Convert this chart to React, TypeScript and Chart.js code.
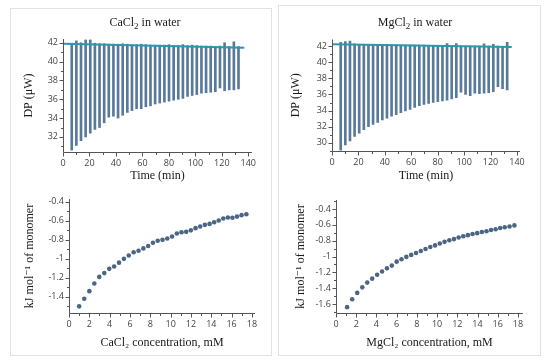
import React, { useEffect, useRef } from "react";
import { Chart, registerables } from "chart.js";
Chart.register(...registerables);

// ---------- data ----------
const SPIKE_TIMES = [6.6, 10.1, 13.6, 17.1, 20.6, 24.1, 27.6, 31.1, 34.6, 38.1, 41.6, 45.1, 48.6, 52.1, 55.6, 59.1, 62.6, 66.1, 69.6, 73.1, 76.6, 80.1, 83.6, 87.1, 90.6, 94.1, 97.6, 101.1, 104.6, 108.1, 111.6, 115.1, 118.6, 122.1, 125.6, 129.1, 132.6];
const CA_SPIKE_MIN = [30.6, 31.1, 31.6, 32.0, 32.4, 32.8, 33.0, 33.5, 34.1, 34.2, 34.0, 34.3, 34.6, 34.8, 35.0, 35.0, 35.2, 35.3, 35.5, 35.6, 35.7, 35.8, 35.9, 36.0, 36.1, 36.3, 36.4, 36.5, 36.65, 36.7, 36.75, 36.8, 37.2, 36.9, 37.0, 37.0, 37.1];
const CA_SPIKE_TOP = [41.95, 42.2, 42.0, 42.3, 42.3, 41.95, 41.9, 41.9, 41.85, 41.85, 41.85, 41.9, 41.85, 41.8, 41.8, 41.85, 41.8, 41.75, 41.75, 41.75, 41.75, 41.8, 41.7, 41.7, 41.8, 41.7, 41.75, 41.7, 41.65, 41.65, 41.65, 41.6, 41.65, 42.0, 41.6, 42.1, 41.6];
const MG_SPIKE_MIN = [29.1, 29.75, 30.25, 30.8, 31.2, 31.65, 32.0, 32.3, 32.55, 32.85, 33.05, 33.3, 33.5, 33.75, 33.95, 34.15, 34.4, 34.6, 34.75, 34.9, 35.0, 35.1, 35.2, 35.3, 35.45, 35.6, 36.27, 36.0, 35.85, 36.15, 36.1, 36.15, 36.22, 36.35, 36.97, 36.7, 36.55];
const MG_SPIKE_TOP = [42.45, 42.55, 42.6, 42.25, 42.2, 42.2, 42.2, 42.2, 42.15, 42.15, 42.15, 42.15, 42.15, 42.1, 42.1, 42.1, 42.1, 42.1, 42.1, 42.05, 42.05, 42.05, 42.05, 42.3, 42.05, 42.3, 42.0, 42.0, 42.0, 42.0, 42.0, 42.25, 42.0, 42.2, 42.0, 41.95, 42.45];
const CA_BASE_TIME = [0, 137];
const CA_BASE_DP = [41.9, 41.48];
const MG_BASE_TIME = [0, 136];
const MG_BASE_DP = [42.2, 41.88];

const CA_CONC = [1.0, 1.5, 2.0, 2.49, 2.98, 3.47, 3.96, 4.44, 4.92, 5.4, 5.88, 6.36, 6.84, 7.32, 7.79, 8.26, 8.73, 9.2, 9.67, 10.14, 10.61, 11.07, 11.53, 11.99, 12.45, 12.91, 13.37, 13.83, 14.28, 14.73, 15.18, 15.63, 16.08, 16.53, 16.98, 17.45];
const CA_ENTHALPY = [-1.5, -1.42, -1.34, -1.26, -1.19, -1.15, -1.105, -1.08, -1.04, -1.0, -0.965, -0.93, -0.915, -0.89, -0.865, -0.83, -0.81, -0.8, -0.786, -0.765, -0.733, -0.72, -0.716, -0.7, -0.677, -0.66, -0.642, -0.632, -0.614, -0.597, -0.575, -0.565, -0.568, -0.555, -0.54, -0.53];
const MG_CONC = [1.1, 1.6, 2.1, 2.6, 3.09, 3.58, 4.07, 4.56, 5.04, 5.52, 6.0, 6.48, 6.96, 7.44, 7.92, 8.39, 8.86, 9.33, 9.8, 10.27, 10.74, 11.21, 11.67, 12.13, 12.59, 13.05, 13.51, 13.97, 14.43, 14.89, 15.34, 15.79, 16.24, 16.69, 17.17, 17.65];
const MG_ENTHALPY = [-1.64, -1.54, -1.46, -1.39, -1.33, -1.28, -1.23, -1.19, -1.15, -1.115, -1.065, -1.035, -1.005, -0.98, -0.955, -0.93, -0.905, -0.88, -0.86, -0.835, -0.815, -0.795, -0.78, -0.76, -0.745, -0.73, -0.715, -0.705, -0.69, -0.68, -0.665, -0.655, -0.64, -0.63, -0.62, -0.607];

const TIME_TICKS = [0, 20, 40, 60, 80, 100, 120, 140];
const CA_DP_TICKS = [32, 34, 36, 38, 40, 42];
const MG_DP_TICKS = [30, 32, 34, 36, 38, 40, 42];
const CONC_TICKS = [0, 2, 4, 6, 8, 10, 12, 14, 16, 18];
const CA_KJ_TICKS = [-1.4, -1.2, -1, -0.8, -0.6, -0.4];
const MG_KJ_TICKS = [-1.6, -1.4, -1.2, -1, -0.8, -0.6, -0.4];

// ---------- styling ----------
const W = 550;
const H = 362;
const SPIKE_COLOR = "#58799a";
const BASE_COLOR = "#2a97aa";
const DOT_COLOR = "#4a6683";
const AXIS_COLOR = "#555";
const TICK_FONT = { family: "'Open Sans', 'DejaVu Sans', sans-serif", size: 9 };
const TITLE_FONT = { family: "'Liberation Serif', 'DejaVu Serif', serif", size: 12, lineHeight: 1.2 };
const HALF_LH = 7.2;

type Panel = {
  l: number; r: number; t: number; b: number;
  yTitleX: number; xTitleY: number;
  xMin: number; xMax: number; yMin: number; yMax: number;
  xTicks: number[]; yTicks: number[]; xMinor: number; yMinor: number;
  xTitle: string; yTitle: string;
  kind: "thermo" | "iso";
  datasets: any[];
};

function fmt(v: number) {
  return String(Math.round(v * 10) / 10);
}

function makeAxisPlugin(p: Panel) {
  return {
    id: "manualAxes",
    afterDraw(chart: any) {
      const { ctx, chartArea, scales } = chart;
      const x = scales.x;
      const y = scales.y;
      const xl = Math.round(chartArea.left) + 0.5;
      const yb = Math.round(chartArea.bottom) + 0.5;
      ctx.save();
      ctx.strokeStyle = AXIS_COLOR;
      ctx.lineWidth = 1;
      ctx.beginPath();
      ctx.moveTo(xl, chartArea.top);
      ctx.lineTo(xl, yb);
      ctx.lineTo(chartArea.right, yb);
      const isMajor = (v: number, arr: number[]) => arr.some((a) => Math.abs(a - v) < 1e-6);
      // x ticks
      for (let k = Math.ceil(p.xMin / p.xMinor - 1e-6); k * p.xMinor <= p.xMax + 1e-6; k++) {
        const v = k * p.xMinor;
        const px = Math.round(x.getPixelForValue(v)) + 0.5;
        const len = isMajor(v, p.xTicks) ? 4 : 2.5;
        ctx.moveTo(px, yb);
        ctx.lineTo(px, yb + len);
      }
      for (let k = Math.ceil(p.yMin / p.yMinor - 1e-6); k * p.yMinor <= p.yMax + 1e-6; k++) {
        const v = k * p.yMinor;
        const py = Math.round(y.getPixelForValue(v)) + 0.5;
        const len = isMajor(v, p.yTicks) ? 4 : 2.5;
        ctx.moveTo(xl, py);
        ctx.lineTo(xl - len, py);
      }
      ctx.stroke();
      ctx.restore();
    },
  };
}

function buildConfig(p: Panel) {
  const padLeft = p.yTitleX - HALF_LH;
  const yWidth = p.l - padLeft;
  const xBottom = p.xTitleY + HALF_LH;
  const xHeight = xBottom - p.b;
  return {
    type: p.kind === "thermo" ? "line" : "scatter",
    data: { datasets: p.datasets },
    plugins: [makeAxisPlugin(p)],
    options: {
      animation: false,
      responsive: false,
      maintainAspectRatio: false,
      layout: { padding: { left: padLeft, right: W - p.r, top: p.t, bottom: H - xBottom } },
      plugins: { legend: { display: false }, tooltip: { enabled: false }, title: { display: false } },
      scales: {
        x: {
          type: "linear",
          min: p.xMin,
          max: p.xMax,
          offset: false,
          grid: { display: false, drawTicks: true, tickLength: 4 },
          border: { display: false },
          afterBuildTicks: (s: any) => { s.ticks = p.xTicks.map((v) => ({ value: v })); },
          afterFit: (s: any) => { s.height = xHeight; },
          ticks: { font: TICK_FONT, color: "#444", padding: 2, maxRotation: 0, autoSkip: false, callback: (v: any) => fmt(Number(v)) },
          title: { display: true, text: p.xTitle, font: TITLE_FONT, color: "#1a1a1a", padding: 0 },
        },
        y: {
          type: "linear",
          min: p.yMin,
          max: p.yMax,
          grid: { display: false, drawTicks: true, tickLength: 4 },
          border: { display: false },
          afterBuildTicks: (s: any) => { s.ticks = p.yTicks.map((v) => ({ value: v })); },
          afterFit: (s: any) => { s.width = yWidth; },
          ticks: { font: TICK_FONT, color: "#444", padding: 1, autoSkip: false, callback: (v: any) => fmt(Number(v)) },
          title: { display: true, text: p.yTitle, font: TITLE_FONT, color: "#1a1a1a", padding: 0 },
        },
      },
    },
  };
}

function thermoSets(baseT: number[], baseY: number[], mins: number[], tops: number[]) {
  return [
    {
      type: "line",
      data: baseT.map((t, i) => ({ x: t, y: baseY[i] })),
      borderColor: BASE_COLOR,
      borderWidth: 2,
      pointRadius: 0,
      order: 0,
    },
    {
      type: "bar",
      data: SPIKE_TIMES.map((t, i) => ({ x: t, y: [mins[i], tops[i]] })),
      backgroundColor: SPIKE_COLOR,
      borderWidth: 0,
      barThickness: 2,
      order: 1,
    },
  ];
}

function isoSets(xs: number[], ys: number[]) {
  return [
    {
      data: xs.map((x, i) => ({ x, y: ys[i] })),
      backgroundColor: DOT_COLOR,
      borderWidth: 0,
      pointRadius: 2.3,
      showLine: false,
    },
  ];
}

const PANELS: Panel[] = [
  {
    kind: "thermo", l: 63, r: 252, t: 39, b: 152, yTitleX: 29, xTitleY: 176,
    xMin: 0, xMax: 142.8, yMin: 30.4, yMax: 42.4, xTicks: TIME_TICKS, yTicks: CA_DP_TICKS, xMinor: 10, yMinor: 1,
    xTitle: "Time (min)", yTitle: "DP (μW)",
    datasets: thermoSets(CA_BASE_TIME, CA_BASE_DP, CA_SPIKE_MIN, CA_SPIKE_TOP),
  },
  {
    kind: "thermo", l: 332, r: 520, t: 39.5, b: 151, yTitleX: 296, xTitleY: 176,
    xMin: 0, xMax: 142.3, yMin: 29, yMax: 42.8, xTicks: TIME_TICKS, yTicks: MG_DP_TICKS, xMinor: 10, yMinor: 1,
    xTitle: "Time (min)", yTitle: "DP (μW)",
    datasets: thermoSets(MG_BASE_TIME, MG_BASE_DP, MG_SPIKE_MIN, MG_SPIKE_TOP),
  },
  {
    kind: "iso", l: 69, r: 255, t: 199, b: 313, yTitleX: 30, xTitleY: 343,
    xMin: 0, xMax: 18.3, yMin: -1.57, yMax: -0.37, xTicks: CONC_TICKS, yTicks: CA_KJ_TICKS, xMinor: 1, yMinor: 0.1,
    xTitle: "CaCl₂ concentration, mM", yTitle: "kJ mol⁻¹ of monomer",
    datasets: isoSets(CA_CONC, CA_ENTHALPY),
  },
  {
    kind: "iso", l: 336, r: 523, t: 200, b: 313, yTitleX: 301, xTitleY: 343,
    xMin: 0, xMax: 18.5, yMin: -1.714, yMax: -0.286, xTicks: CONC_TICKS, yTicks: MG_KJ_TICKS, xMinor: 1, yMinor: 0.1,
    xTitle: "MgCl₂ concentration, mM", yTitle: "kJ mol⁻¹ of monomer",
    datasets: isoSets(MG_CONC, MG_ENTHALPY),
  },
];

function PanelChart({ panel }: { panel: Panel }) {
  const ref = useRef<HTMLCanvasElement | null>(null);
  useEffect(() => {
    if (!ref.current) return;
    const chart = new Chart(ref.current, buildConfig(panel) as any);
    return () => chart.destroy();
  }, [panel]);
  return (
    <canvas
      ref={ref}
      width={W}
      height={H}
      style={{ position: "absolute", left: 0, top: 0, width: W, height: H }}
    />
  );
}

const titleStyle: React.CSSProperties = {
  position: "absolute",
  width: 160,
  textAlign: "center",
  fontFamily: "'Liberation Serif', 'DejaVu Serif', serif",
  fontSize: 12,
  lineHeight: "14px",
  color: "#1a1a1a",
  top: 15,
};

export default function App() {
  return (
    <div style={{ position: "absolute", left: 0, top: 0, width: W, height: H, background: "#fff", overflow: "hidden" }}>
      <div style={{ position: "absolute", left: 10, top: 8, width: 260, height: 346, border: "1px solid #e2e2e2" }} />
      <div style={{ position: "absolute", left: 278, top: 5, width: 261, height: 349, border: "1px solid #e2e2e2" }} />
      {PANELS.map((p, i) => (
        <PanelChart key={i} panel={p} />
      ))}
      <div style={{ ...titleStyle, left: 145 - 80 }}>
        CaCl<sub style={{ fontSize: 9 }}>2</sub> in water
      </div>
      <div style={{ ...titleStyle, left: 415 - 80 }}>
        MgCl<sub style={{ fontSize: 9 }}>2</sub> in water
      </div>
    </div>
  );
}
